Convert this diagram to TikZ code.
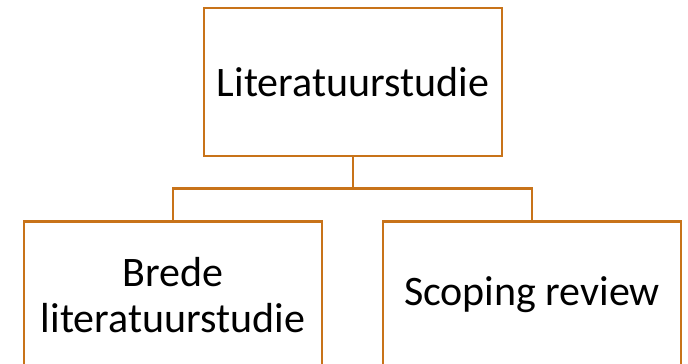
\documentclass[tikz,border=0pt]{standalone}
\usepackage{fontspec}
\setmainfont{Carlito}
\usetikzlibrary{positioning}
\definecolor{boxorange}{RGB}{200,115,25}
\tikzset{
  litbox/.style={draw=boxorange,line width=2.6pt,minimum width=298pt,align=center,inner sep=0pt,
    font=\fontsize{42}{46}\selectfont},
  litline/.style={draw=boxorange,line width=2.6pt}
}

\begin{document}
\begin{tikzpicture}[x=1pt,y=-1pt]
        \useasboundingbox (0,0) rectangle (688,364);
        \clip (0,0) rectangle (688,364);
        \node[litbox,minimum height=148pt] (lit) at (353,82) {Literatuurstudie};
        \node[litbox,minimum height=147pt,below=63pt of lit.south,xshift=-180pt] (brede) {Brede\\literatuurstudie};
        \node[litbox,minimum height=147pt,below=63pt of lit.south,xshift=179pt] (scoping) {Scoping review};
        \draw[litline] (lit.south) -- ++(0,31) coordinate (split) -| (brede.north);
        \draw[litline] (split) -| (scoping.north);
\end{tikzpicture}
\end{document}
